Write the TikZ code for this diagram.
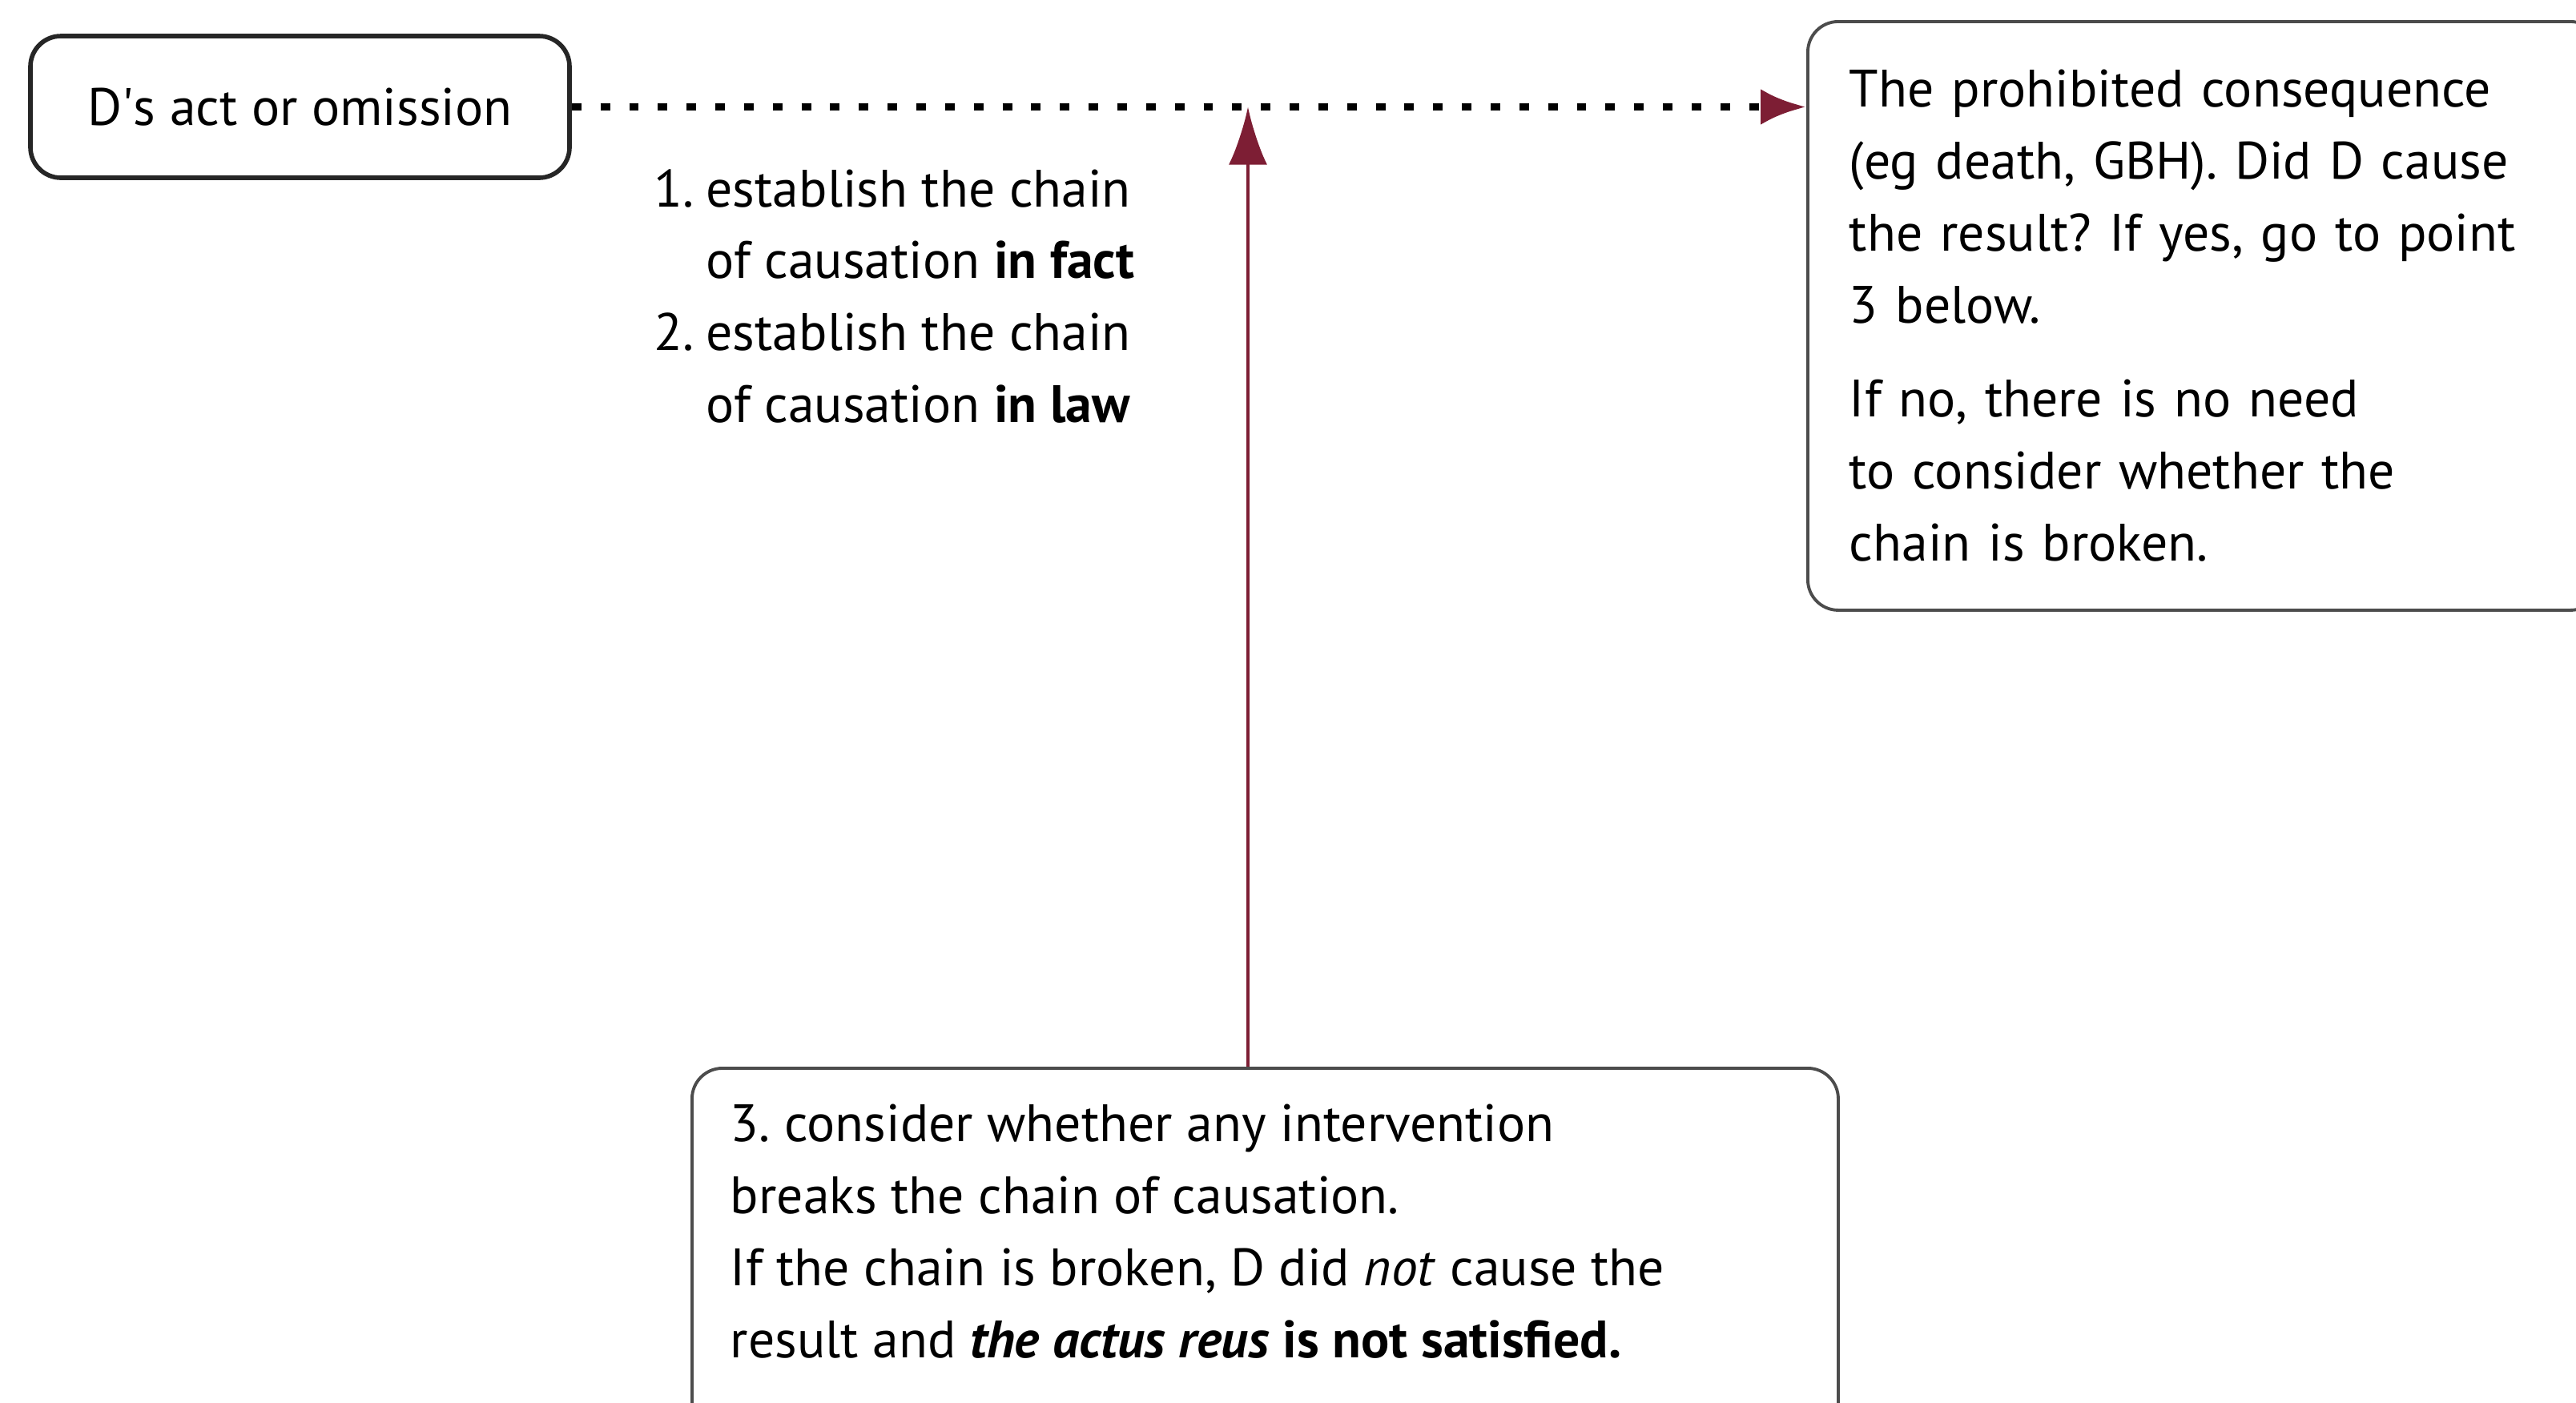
\documentclass[tikz,border=0pt]{standalone}
\usepackage{fontspec}
\setmainfont{PT Sans}
\usetikzlibrary{arrows.meta,positioning}
\definecolor{arrowred}{RGB}{125,30,52}
\frenchspacing

\tikzset{
  stepbox/.style={draw=black!70,line width=1.1pt,rounded corners=0.38cm,align=left},
  textfont/.style={font=\fontsize{18.7pt}{25.6pt}\selectfont}
}

\begin{document}
\begin{tikzpicture}[every node/.style={textfont}]
  \clip (0,0) rectangle (32.16,-17.51);
  \fill[white] (0,0) rectangle (32.16,-17.51);

  \node[stepbox,draw=black!85,line width=1.6pt,minimum width=6.73cm,minimum height=1.77cm] (act) at (3.745,-1.335) {D\textquotesingle s act or omission};
  \node[stepbox,anchor=north west,minimum height=7.35cm,text width=8.86cm,inner xsep=0.52cm] (cons) at (22.55,-0.25)
    {The prohibited consequence\\(eg death, GBH). Did D cause\\the result? If yes, go to point\\3 below.\\[0.27cm]If no, there is no need\\to consider whether the\\chain is broken.};
  \node[stepbox,anchor=north west,inner xsep=0.48cm,inner ysep=0.45cm] (interv) at (8.62,-13.32)
    {\begin{minipage}[t][4.6cm][t]{13.35cm}3. consider whether any intervention\\breaks the chain of causation.\\If the chain is broken, D did \emph{not} cause the\\result and \textbf{\emph{the actus reus} is not satisfied.}\end{minipage}};
  \node[anchor=base west,inner sep=0pt] (steps) at (8.16,-2.58)
    {\begin{tabular}[t]{@{}l@{\hspace{0.15cm}}l@{}}1. & establish the chain\\ & of causation \textbf{in fact}\\2. & establish the chain\\ & of causation \textbf{in law}\end{tabular}};

  \coordinate (hit) at (15.58,-1.335);

  \draw[line width=2.7pt,dash pattern=on 3.4pt off 6.8pt,-{Latex[length=0.57cm,width=0.45cm,color=arrowred]}] (act.east) -- (act.east -| cons.west);
  \draw[arrowred,line width=1.4pt,-{Latex[length=0.72cm,width=0.48cm]}] (interv.north -| hit) -- (hit);
\end{tikzpicture}
\end{document}
